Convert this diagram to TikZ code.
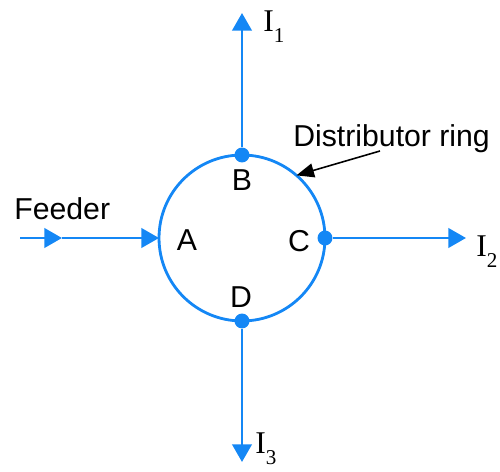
\documentclass[tikz,border=0pt]{standalone}
\usepackage{fontspec}
\setmainfont{Liberation Sans}
\newfontfamily\curfont{Liberation Serif}
\usetikzlibrary{arrows.meta}
\definecolor{ringblue}{RGB}{20,135,245}
\newcommand{\isub}[1]{I\raisebox{-6pt}{\fontsize{12}{12}\selectfont #1}}
\begin{document}
\begin{tikzpicture}[x=0.02cm,y=-0.02cm,
	every node/.style={inner sep=0pt,font=\fontsize{17.2}{20}\selectfont},
	wire/.style={draw=ringblue,line width=1.6pt},
	flow/.style={wire,-{Triangle[length=10pt,width=11pt]}},
	tap/.style={circle,fill=ringblue,minimum size=8.5pt},
	cur/.style={anchor=base west,font=\curfont\fontsize{18}{20}\selectfont}]
\useasboundingbox (0,0) rectangle (500,472);
% ring and tapping points
\node[wire,circle,outer sep=0pt,minimum size=3.32cm] (ring) at (242,238) {};
\node[tap] (B) at (ring.north) {};
\node[tap] (C) at (ring.east) {};
\node[tap] (D) at (ring.south) {};
\node (labA) at (187,240) {A};
\node (labB) at (242,180) {B};
\node (labC) at (299,241) {C};
\node (labD) at (241,297) {D};
% feeder
\coordinate (feedin) at (20,238);
\coordinate (feedmid) at (62,238);
\draw[flow] (feedin) -- (feedmid);
\draw[flow] (feedmid) -- (ring.west);
\node[anchor=base west] (feedlbl) at (14,220) {Feeder};
% loads
\coordinate (out1) at (242,13);
\coordinate (out2) at (466,238);
\coordinate (out3) at (242,462);
\draw[flow] (B) -- (out1);
\draw[flow] (C) -- (out2);
\draw[flow] (D) -- (out3);
\node[cur] (I1) at (263,32) {\isub{1}};
\node[cur] (I2) at (476,257) {\isub{2}};
\node[cur] (I3) at (255,454) {\isub{3}};
% ring label
\node[anchor=base west] (ringlbl) at (293,147) {Distributor ring};
\coordinate (tail) at (380,151);
\draw[line width=0.9pt,-{Triangle[length=10pt,width=8pt]}] (tail) -- (ring.49);
\end{tikzpicture}
\end{document}
